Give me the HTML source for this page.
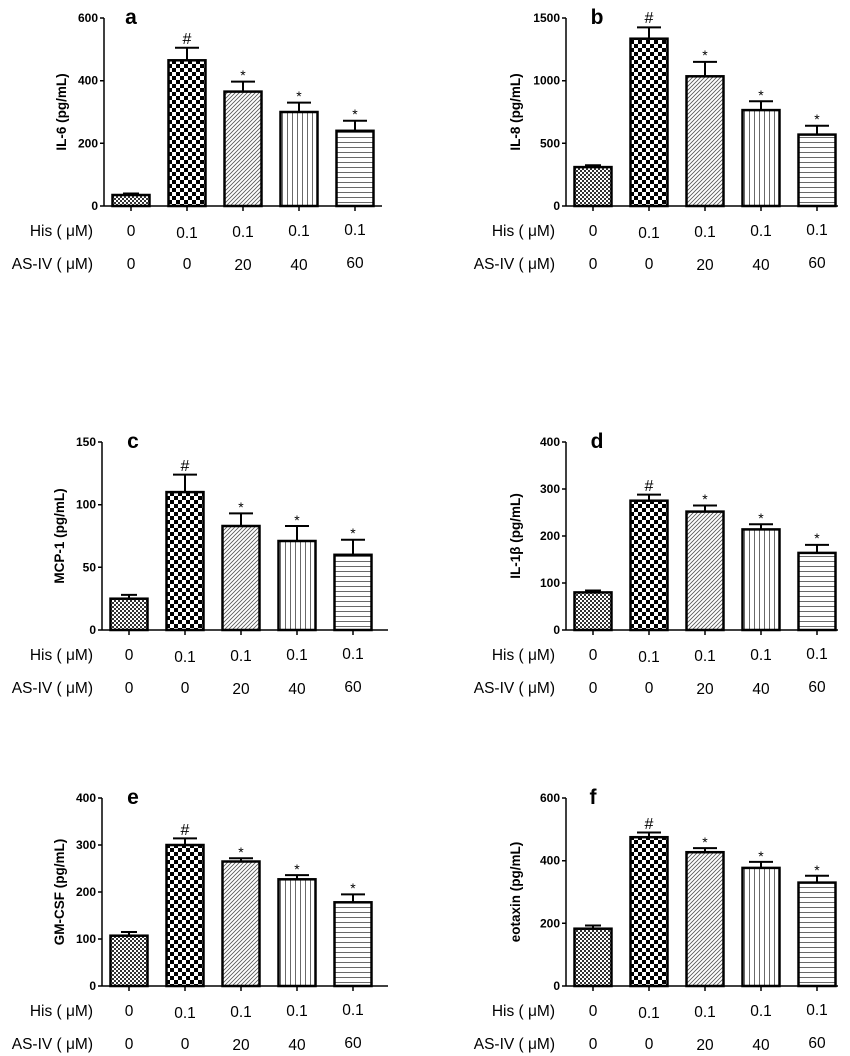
<!DOCTYPE html>
<html><head><meta charset="utf-8"><style>
html,body{margin:0;padding:0;background:#fff}
svg{display:block}
text{font-family:"Liberation Sans",Arial,sans-serif;fill:#000}
.yt{font-size:12px;font-weight:bold;text-anchor:end}
.yl{font-size:13.5px;font-weight:bold;text-anchor:middle}
.lt{font-size:21px;font-weight:bold;text-anchor:middle}
.rl{font-size:15.5px;text-anchor:end}
.xv{font-size:15.5px;text-anchor:middle}
.sy{font-size:16px;text-anchor:middle}
.st{font-size:14px;text-anchor:middle}
.ax{stroke:#000;stroke-width:1.5;fill:none}
.b{stroke:#000;stroke-width:2.5}
.e{stroke:#000;stroke-width:2;fill:none}
</style></head><body>
<svg width="850" height="1056" viewBox="0 0 850 1056" xmlns="http://www.w3.org/2000/svg">
<defs>
<pattern id="p1" patternUnits="userSpaceOnUse" width="4" height="4"><rect width="4" height="4" fill="#fff"/><rect width="2" height="2" fill="#333"/><rect x="2" y="2" width="2" height="2" fill="#333"/></pattern>
<pattern id="p2" patternUnits="userSpaceOnUse" width="8" height="8"><rect width="8" height="8" fill="#fff"/><rect width="4" height="4" fill="#000"/><rect x="4" y="4" width="4" height="4" fill="#000"/></pattern>
<pattern id="p3" patternUnits="userSpaceOnUse" width="4" height="4"><rect width="4" height="4" fill="#fff"/><path d="M-1,5L5,-1M-1,1L1,-1M3,5L5,3" stroke="#555" stroke-width="0.8"/></pattern>
<pattern id="p4" patternUnits="userSpaceOnUse" width="5" height="5"><rect width="5" height="5" fill="#fff"/><path d="M2.5,0V5" stroke="#444" stroke-width="0.8"/></pattern>
<pattern id="p5" patternUnits="userSpaceOnUse" width="5" height="5"><rect width="5" height="5" fill="#fff"/><path d="M0,2.5H5" stroke="#444" stroke-width="0.8"/></pattern>
</defs>

<!-- Panel a -->
<g transform="translate(0,0)">
<path class="ax" d="M104,18V206H382M100,18H104M100,80.7H104M100,143.3H104M100,206H104M131,206V211M187,206V211M243,206V211M299,206V211M355,206V211"/>
<text class="yt" x="98" y="22">600</text><text class="yt" x="98" y="84.7">400</text><text class="yt" x="98" y="147.3">200</text><text class="yt" x="98" y="210">0</text>
<text class="yl" transform="translate(66,112) rotate(-90)">IL-6 (pg/mL)</text>
<text class="lt" x="131" y="24">a</text>
<path class="e" d="M131,195V193.5M123,193.5H139M187,60V47.8M175,47.8H199M243,92V81.6M231,81.6H255M299,112V102.6M287,102.6H311M355,131V120.8M343,120.8H367"/>
<rect class="b" x="112.5" y="195" width="37" height="11" fill="url(#p1)"/>
<rect class="b" x="168.5" y="60.3" width="37" height="145.7" fill="url(#p2)"/>
<rect class="b" x="224.5" y="91.6" width="37" height="114.4" fill="url(#p3)"/>
<rect class="b" x="280.5" y="112" width="37" height="94" fill="url(#p4)"/>
<rect class="b" x="336.5" y="130.8" width="37" height="75.2" fill="url(#p5)"/>
<text class="sy" x="187" y="44">#</text><text class="st" x="243" y="80">*</text><text class="st" x="299" y="101">*</text><text class="st" x="355" y="119">*</text>
<text class="rl" x="93" y="236">His ( μM)</text><text class="xv" x="131" y="236">0</text><text class="xv" x="187" y="238">0.1</text><text class="xv" x="243" y="237">0.1</text><text class="xv" x="299" y="236">0.1</text><text class="xv" x="355" y="235">0.1</text>
<text class="rl" x="93" y="269">AS-IV ( μM)</text><text class="xv" x="131" y="269">0</text><text class="xv" x="187" y="269">0</text><text class="xv" x="243" y="270">20</text><text class="xv" x="299" y="270">40</text><text class="xv" x="355" y="268">60</text>
</g>

<!-- Panel b -->
<g transform="translate(462,0)">
<path class="ax" d="M104,18V206H376M100,18H104M100,80.7H104M100,143.3H104M100,206H104M131,206V211M187,206V211M243,206V211M299,206V211M355,206V211"/>
<text class="yt" x="98" y="22">1500</text><text class="yt" x="98" y="84.7">1000</text><text class="yt" x="98" y="147.3">500</text><text class="yt" x="98" y="210">0</text>
<text class="yl" transform="translate(58,112) rotate(-90)">IL-8 (pg/mL)</text>
<text class="lt" x="135" y="24">b</text>
<path class="e" d="M131,167V165.3M123,165.3H139M187,39V27.4M175,27.4H199M243,76V61.9M231,61.9H255M299,110V101.3M287,101.3H311M355,134.6V125.8M343,125.8H367"/>
<rect class="b" x="112.5" y="167.1" width="37" height="38.9" fill="url(#p1)"/>
<rect class="b" x="168.5" y="38.7" width="37" height="167.3" fill="url(#p2)"/>
<rect class="b" x="224.5" y="76.3" width="37" height="129.7" fill="url(#p3)"/>
<rect class="b" x="280.5" y="110.1" width="37" height="95.9" fill="url(#p4)"/>
<rect class="b" x="336.5" y="134.6" width="37" height="71.4" fill="url(#p5)"/>
<text class="sy" x="187" y="23">#</text><text class="st" x="243" y="60">*</text><text class="st" x="299" y="100">*</text><text class="st" x="355" y="124">*</text>
<text class="rl" x="93" y="236">His ( μM)</text><text class="xv" x="131" y="236">0</text><text class="xv" x="187" y="238">0.1</text><text class="xv" x="243" y="237">0.1</text><text class="xv" x="299" y="236">0.1</text><text class="xv" x="355" y="235">0.1</text>
<text class="rl" x="93" y="269">AS-IV ( μM)</text><text class="xv" x="131" y="269">0</text><text class="xv" x="187" y="269">0</text><text class="xv" x="243" y="270">20</text><text class="xv" x="299" y="270">40</text><text class="xv" x="355" y="268">60</text>
</g>

<!-- Panel c -->
<g transform="translate(-2,424)">
<path class="ax" d="M104,18V206H390M100,18H104M100,80.7H104M100,143.3H104M100,206H104M131,206V211M187,206V211M243,206V211M299,206V211M355,206V211"/>
<text class="yt" x="98" y="22">150</text><text class="yt" x="98" y="84.7">100</text><text class="yt" x="98" y="147.3">50</text><text class="yt" x="98" y="210">0</text>
<text class="yl" transform="translate(66,112) rotate(-90)">MCP-1 (pg/mL)</text>
<text class="lt" x="135" y="24">c</text>
<path class="e" d="M131,175V170.9M123,170.9H139M187,68V50.6M175,50.6H199M243,102V89.4M231,89.4H255M299,117V102M287,102H311M355,131V115.8M343,115.8H367"/>
<rect class="b" x="112.5" y="174.7" width="37" height="31.3" fill="url(#p1)"/>
<rect class="b" x="168.5" y="68.1" width="37" height="137.9" fill="url(#p2)"/>
<rect class="b" x="224.5" y="102" width="37" height="104" fill="url(#p3)"/>
<rect class="b" x="280.5" y="117" width="37" height="89" fill="url(#p4)"/>
<rect class="b" x="336.5" y="130.8" width="37" height="75.2" fill="url(#p5)"/>
<text class="sy" x="187" y="47">#</text><text class="st" x="243" y="88">*</text><text class="st" x="299" y="101">*</text><text class="st" x="355" y="114">*</text>
<text class="rl" x="95" y="236">His ( μM)</text><text class="xv" x="131" y="236">0</text><text class="xv" x="187" y="238">0.1</text><text class="xv" x="243" y="237">0.1</text><text class="xv" x="299" y="236">0.1</text><text class="xv" x="355" y="235">0.1</text>
<text class="rl" x="95" y="269">AS-IV ( μM)</text><text class="xv" x="131" y="269">0</text><text class="xv" x="187" y="269">0</text><text class="xv" x="243" y="270">20</text><text class="xv" x="299" y="270">40</text><text class="xv" x="355" y="268">60</text>
</g>

<!-- Panel d -->
<g transform="translate(462,424)">
<path class="ax" d="M104,18V206H376M100,18H104M100,65H104M100,112H104M100,159H104M100,206H104M131,206V211M187,206V211M243,206V211M299,206V211M355,206V211"/>
<text class="yt" x="98" y="22">400</text><text class="yt" x="98" y="69">300</text><text class="yt" x="98" y="116">200</text><text class="yt" x="98" y="163">100</text><text class="yt" x="98" y="210">0</text>
<text class="yl" transform="translate(58,112) rotate(-90)">IL-1β (pg/mL)</text>
<text class="lt" x="135" y="24">d</text>
<path class="e" d="M131,168V166.5M123,166.5H139M187,77V70.6M175,70.6H199M243,88V81.5M231,81.5H255M299,105V100.2M287,100.2H311M355,129V120.9M343,120.9H367"/>
<rect class="b" x="112.5" y="168.4" width="37" height="37.6" fill="url(#p1)"/>
<rect class="b" x="168.5" y="76.7" width="37" height="129.3" fill="url(#p2)"/>
<rect class="b" x="224.5" y="87.6" width="37" height="118.4" fill="url(#p3)"/>
<rect class="b" x="280.5" y="105.4" width="37" height="100.6" fill="url(#p4)"/>
<rect class="b" x="336.5" y="128.9" width="37" height="77.1" fill="url(#p5)"/>
<text class="sy" x="187" y="67">#</text><text class="st" x="243" y="80">*</text><text class="st" x="299" y="99">*</text><text class="st" x="355" y="119">*</text>
<text class="rl" x="93" y="236">His ( μM)</text><text class="xv" x="131" y="236">0</text><text class="xv" x="187" y="238">0.1</text><text class="xv" x="243" y="237">0.1</text><text class="xv" x="299" y="236">0.1</text><text class="xv" x="355" y="235">0.1</text>
<text class="rl" x="93" y="269">AS-IV ( μM)</text><text class="xv" x="131" y="269">0</text><text class="xv" x="187" y="269">0</text><text class="xv" x="243" y="270">20</text><text class="xv" x="299" y="270">40</text><text class="xv" x="355" y="268">60</text>
</g>

<!-- Panel e -->
<g transform="translate(-2,780)">
<path class="ax" d="M104,18V206H390M100,18H104M100,65H104M100,112H104M100,159H104M100,206H104M131,206V211M187,206V211M243,206V211M299,206V211M355,206V211"/>
<text class="yt" x="98" y="22">400</text><text class="yt" x="98" y="69">300</text><text class="yt" x="98" y="116">200</text><text class="yt" x="98" y="163">100</text><text class="yt" x="98" y="210">0</text>
<text class="yl" transform="translate(66,112) rotate(-90)">GM-CSF (pg/mL)</text>
<text class="lt" x="135" y="24">e</text>
<path class="e" d="M131,156V152M123,152H139M187,65V58.4M175,58.4H199M243,82V78.2M231,78.2H255M299,99V95.1M287,95.1H311M355,122V114.4M343,114.4H367"/>
<rect class="b" x="112.5" y="155.7" width="37" height="50.3" fill="url(#p1)"/>
<rect class="b" x="168.5" y="65" width="37" height="141" fill="url(#p2)"/>
<rect class="b" x="224.5" y="81.5" width="37" height="124.5" fill="url(#p3)"/>
<rect class="b" x="280.5" y="99.3" width="37" height="106.7" fill="url(#p4)"/>
<rect class="b" x="336.5" y="122.3" width="37" height="83.7" fill="url(#p5)"/>
<text class="sy" x="187" y="55">#</text><text class="st" x="243" y="77">*</text><text class="st" x="299" y="94">*</text><text class="st" x="355" y="113">*</text>
<text class="rl" x="95" y="236">His ( μM)</text><text class="xv" x="131" y="236">0</text><text class="xv" x="187" y="238">0.1</text><text class="xv" x="243" y="237">0.1</text><text class="xv" x="299" y="236">0.1</text><text class="xv" x="355" y="235">0.1</text>
<text class="rl" x="95" y="269">AS-IV ( μM)</text><text class="xv" x="131" y="269">0</text><text class="xv" x="187" y="269">0</text><text class="xv" x="243" y="270">20</text><text class="xv" x="299" y="270">40</text><text class="xv" x="355" y="268">60</text>
</g>

<!-- Panel f -->
<g transform="translate(462,780)">
<path class="ax" d="M104,18V206H376M100,18H104M100,80.7H104M100,143.3H104M100,206H104M131,206V211M187,206V211M243,206V211M299,206V211M355,206V211"/>
<text class="yt" x="98" y="22">600</text><text class="yt" x="98" y="84.7">400</text><text class="yt" x="98" y="147.3">200</text><text class="yt" x="98" y="210">0</text>
<text class="yl" transform="translate(58,112) rotate(-90)">eotaxin (pg/mL)</text>
<text class="lt" x="131" y="24">f</text>
<path class="e" d="M131,149V145.5M123,145.5H139M187,57V52.5M175,52.5H199M243,72V68.1M231,68.1H255M299,88V81.9M287,81.9H311M355,103V95.7M343,95.7H367"/>
<rect class="b" x="112.5" y="148.7" width="37" height="57.3" fill="url(#p1)"/>
<rect class="b" x="168.5" y="57.2" width="37" height="148.8" fill="url(#p2)"/>
<rect class="b" x="224.5" y="72.2" width="37" height="133.8" fill="url(#p3)"/>
<rect class="b" x="280.5" y="87.9" width="37" height="118.1" fill="url(#p4)"/>
<rect class="b" x="336.5" y="102.6" width="37" height="103.4" fill="url(#p5)"/>
<text class="sy" x="187" y="49">#</text><text class="st" x="243" y="67">*</text><text class="st" x="299" y="81">*</text><text class="st" x="355" y="95">*</text>
<text class="rl" x="93" y="236">His ( μM)</text><text class="xv" x="131" y="236">0</text><text class="xv" x="187" y="238">0.1</text><text class="xv" x="243" y="237">0.1</text><text class="xv" x="299" y="236">0.1</text><text class="xv" x="355" y="235">0.1</text>
<text class="rl" x="93" y="269">AS-IV ( μM)</text><text class="xv" x="131" y="269">0</text><text class="xv" x="187" y="269">0</text><text class="xv" x="243" y="270">20</text><text class="xv" x="299" y="270">40</text><text class="xv" x="355" y="268">60</text>
</g>
</svg>
</body></html>
